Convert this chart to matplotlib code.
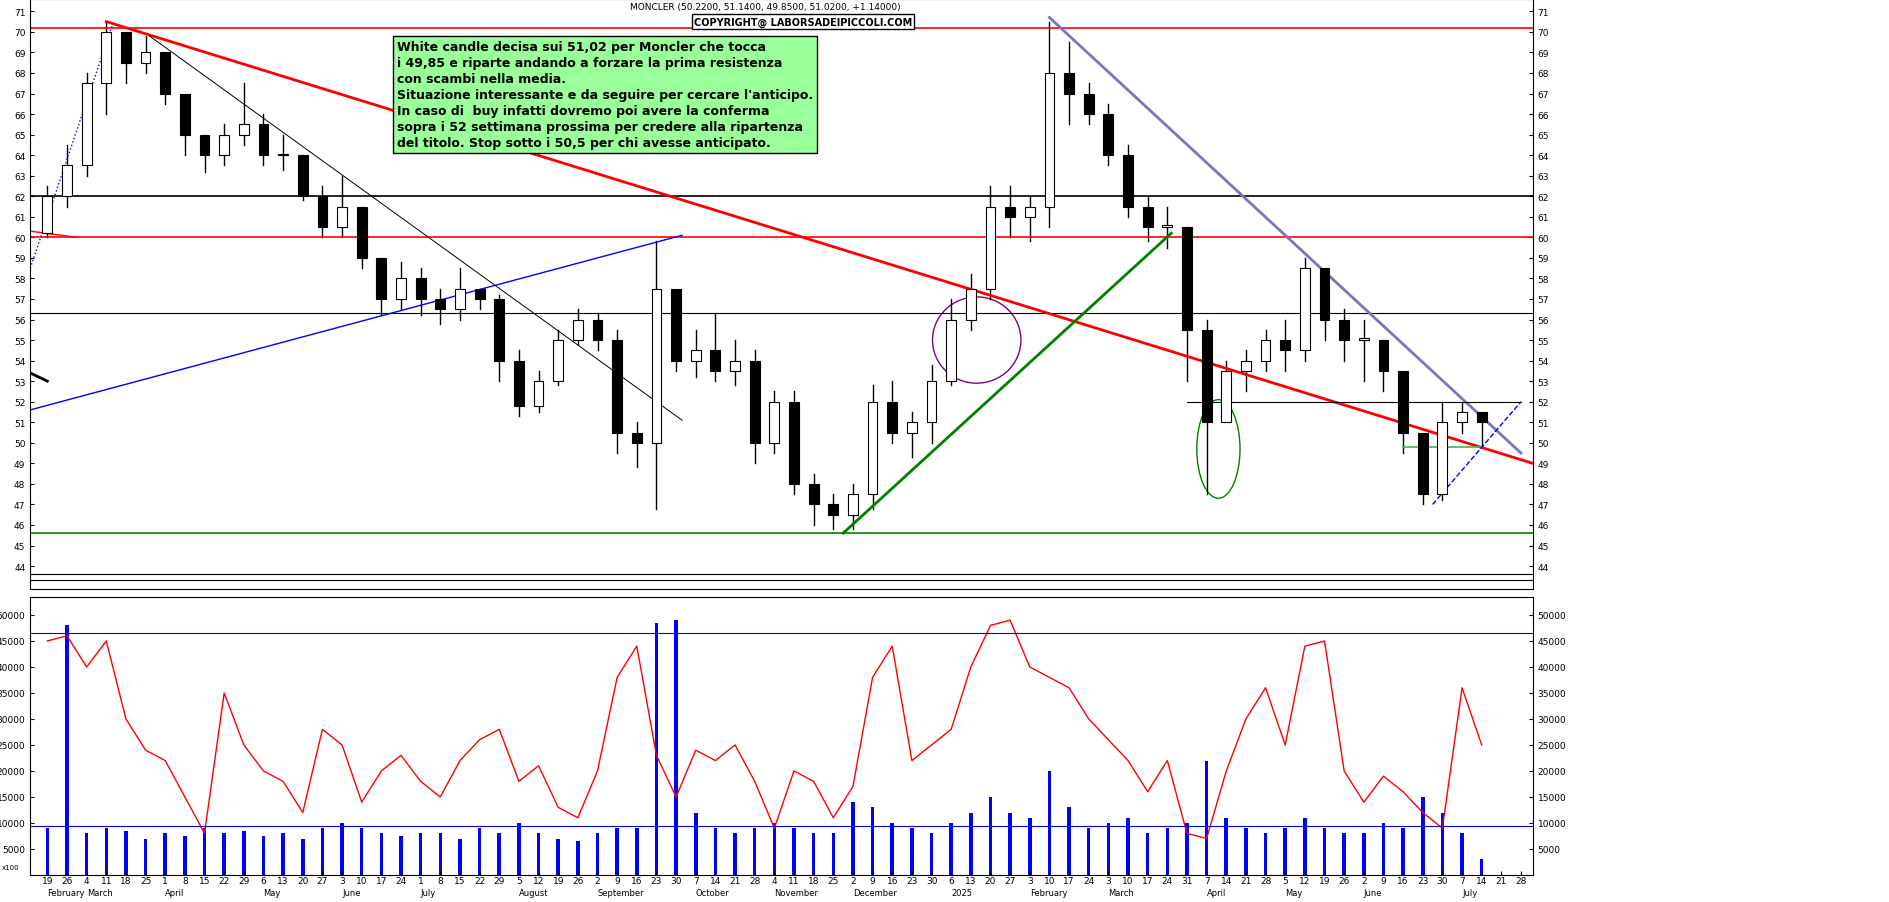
import matplotlib
matplotlib.use("Agg")
import matplotlib.pyplot as plt
from matplotlib.patches import Ellipse, Rectangle
import datetime as dt

opens = [60.2,62,63.5,67.5,70,68.5,69,67,65,64,65,65.5,64,64,62,60.5,61.5,59,57,58,57,56.5,57.5,57,54,51.8,53,55,56,55,50.5,50,57.5,54,54.5,53.5,54,50,52,48,47,46.5,47.5,52,50.5,51,53,56,57.5,61.5,61,61.5,68,67,66,64,61.5,60.5,60.5,55.5,51,53.5,54,55,54.5,58.5,56,55,55,53.5,50.5,47.5,51,51.5]
closes= [62,63.5,67.5,70,68.5,69,67,65,64,65,65.5,64,64,62,60.5,61.5,59,57,58,57,56.5,57.5,57,54,51.8,53,55,56,55,50.5,50,57.5,54,54.5,53.5,54,50,52,48,47,46.5,47.5,52,50.5,51,53,56,57.5,61.5,61,61.5,68,67,66,64,61.5,60.5,60.5,55.5,51,53.5,54,55,54.5,58.5,56,55,55,53.5,50.5,47.5,51,51.5,51.02]
highs = [62.5,64.5,68,70.5,69.5,69.8,68.5,66.5,65,65.5,67.5,66,65,64,62.5,63,61.5,59,58.8,58.5,57.5,58.5,57.5,57.2,54.5,53.5,55.5,56.5,56.3,55.5,51,59.8,57,55.5,56.3,55,54.5,52.5,52.5,48.5,47.5,48,52.8,53,51.5,53.8,57,58.2,62.5,62.5,62,70.5,69.5,67.5,66.5,64.5,62,61.5,60.5,56,54,54.5,55.5,56,59,57.5,56.5,56,55,51.5,49.5,52,52,51.2]
lows  = [60,61.5,63,66,67.5,68,66.5,64,63.2,63.5,64.5,63.5,63.3,61.8,60,60,58.5,56.2,56.5,56.2,55.8,56,56.5,53,51.3,51.5,52.8,54.8,54.5,49.5,48.8,46.8,53.5,53.2,53,52.8,49,49.5,47.5,46,45.8,45.8,46.8,50,49.3,50,52.8,55.5,57,60,59.8,60.5,65.5,65.5,63.5,61,59.8,59.5,53,47.5,51.5,52.5,53.5,53.5,54,55,54,53,52.5,49.5,47,47.2,50.5,49.85]
vol_bars = [9000,48000,8000,9000,8500,7000,8000,7500,9000,8000,8500,7500,8000,7000,9000,10000,9000,8000,7500,8000,8000,7000,9000,8000,10000,8000,7000,6500,8000,9000,9000,48500,49000,12000,9000,8000,9000,10000,9000,8000,8000,14000,13000,10000,9000,8000,10000,12000,15000,12000,11000,20000,13000,9000,10000,11000,8000,9000,10000,22000,11000,9000,8000,9000,11000,9000,8000,8000,10000,9000,15000,12000,8000,3000]
vol_avg = [45000,46000,40000,45000,30000,24000,22000,15000,8000,35000,25000,20000,18000,12000,28000,25000,14000,20000,23000,18000,15000,22000,26000,28000,18000,21000,13000,11000,20000,38000,44000,23000,15000,24000,22000,25000,18000,9000,20000,18000,11000,17000,38000,44000,22000,25000,28000,40000,48000,49000,40000,38000,36000,30000,26000,22000,16000,22000,8000,7000,20000,30000,36000,25000,44000,45000,20000,14000,19000,16000,12000,9000,36000,25000]

weeks = list(range(len(closes)))
start = dt.date(2024,2,19)

fig = plt.figure(figsize=(18.9,9.03), dpi=100)
ax = fig.add_axes([0.016,0.347,0.795,0.653])
av = fig.add_axes([0.016,0.03,0.795,0.308], sharex=ax)
xmin, xmax = -0.87, 75.6

for w in weeks:
    o,c,h,l = opens[w],closes[w],highs[w],lows[w]
    ax.plot([w,w],[l,h],color='black',lw=1)
    up = c>=o
    ax.add_patch(Rectangle((w-0.25,min(o,c)),0.5,max(abs(c-o),0.08),
                 facecolor='white' if up else 'black',edgecolor='black',lw=0.8,zorder=3))

for y,c,lw in [(70.2,'red',1.2),(60.0,'red',1.2),(62.0,'black',1.2),(56.3,'black',0.8),(45.6,'green',1.2),(43.6,'black',0.8),(43.3,'black',0.8)]:
    ax.axhline(y,color=c,lw=lw)
ax.plot([3,75.6],[70.5,49.0],color='red',lw=2)
ax.plot([-0.87,1.5],[60.3,60.0],color='red',lw=1)
ax.plot([-0.87,32.3],[51.6,60.1],color='blue',lw=1)
ax.plot([5.2,32.3],[69.8,51.1],color='black',lw=0.7)
ax.plot([40.5,57.2],[45.6,60.2],color='green',lw=2)
ax.plot([51,75],[70.7,49.5],color='#7777bb',lw=2)
ax.plot([-0.87,0],[53.4,53.0],color='black',lw=2)
ax.plot([-0.87,3.3],[58.5,70.3],color='blue',lw=1,ls=':')
ax.plot([58,75],[52,52],color='black',lw=0.8)
ax.plot([69,73],[49.8,49.8],color='#55aa55',lw=1.2)
ax.plot([70.5,75],[47,52],color='blue',lw=1,ls='--')
ax.add_patch(Ellipse((47.3,55.0),4.5,4.2,fill=False,edgecolor='purple',lw=1))
ax.add_patch(Ellipse((59.6,49.7),2.2,4.8,fill=False,edgecolor='green',lw=1))

ax.text(17.8,69.6,"White candle decisa sui 51,02 per Moncler che tocca\ni 49,85 e riparte andando a forzare la prima resistenza\ncon scambi nella media.\nSituazione interessante e da seguire per cercare l'anticipo.\nIn caso di  buy infatti dovremo poi avere la conferma\nsopra i 52 settimana prossima per credere alla ripartenza\ndel titolo. Stop sotto i 50,5 per chi avesse anticipato.",
        fontsize=9,fontweight='bold',va='top',ha='left',linespacing=1.3,
        bbox=dict(facecolor='#99ff99',edgecolor='black',boxstyle='square,pad=0.3'))
fig.text(0.405,0.997,"MONCLER (50.2200, 51.1400, 49.8500, 51.0200, +1.14000)",fontsize=6.5,ha='center',va='top')
fig.text(0.425,0.975,"COPYRIGHT@ LABORSADEIPICCOLI.COM",fontsize=7,fontweight='bold',ha='center',va='center',
         bbox=dict(facecolor='white',edgecolor='black',pad=1.5))

ax.set_ylim(42.9,71.6)
ax.set_yticks(range(44,72))
ax.tick_params(axis='y',labelleft=True,labelright=True,right=True,labelsize=6.5,direction='in',length=3)
ax.tick_params(axis='x',labelbottom=False,bottom=False)

av.bar(weeks,vol_bars,width=0.18,color='blue')
av.plot(weeks,vol_avg,color='red',lw=1)
av.axhline(46500,color='blue',lw=0.8)
av.axhline(9500,color='blue',lw=0.8)
av.set_ylim(0,53500)
av.set_yticks(range(5000,50001,5000))
av.tick_params(axis='y',labelleft=True,labelright=True,right=True,labelsize=6.5,direction='in',length=3)
av.set_xlim(xmin,xmax)
ticks=[]; labs=[]
prev_m=None
for w in range(0,76):
    d = start+dt.timedelta(weeks=w)
    ticks.append(w); labs.append(str(d.day))
    if d.month!=prev_m:
        name = '2025' if (d.year==2025 and d.month==1) else d.strftime('%B')
        av.text(w,-0.048,name,transform=av.get_xaxis_transform(),fontsize=6,ha='left',va='top')
        prev_m=d.month
av.set_xticks(ticks); av.set_xticklabels(labs,fontsize=6.5)
av.tick_params(axis='x',direction='in',length=3,pad=1)
fig.text(0.001,0.037,"x100",fontsize=5)
fig.savefig("out.png",dpi=100)
